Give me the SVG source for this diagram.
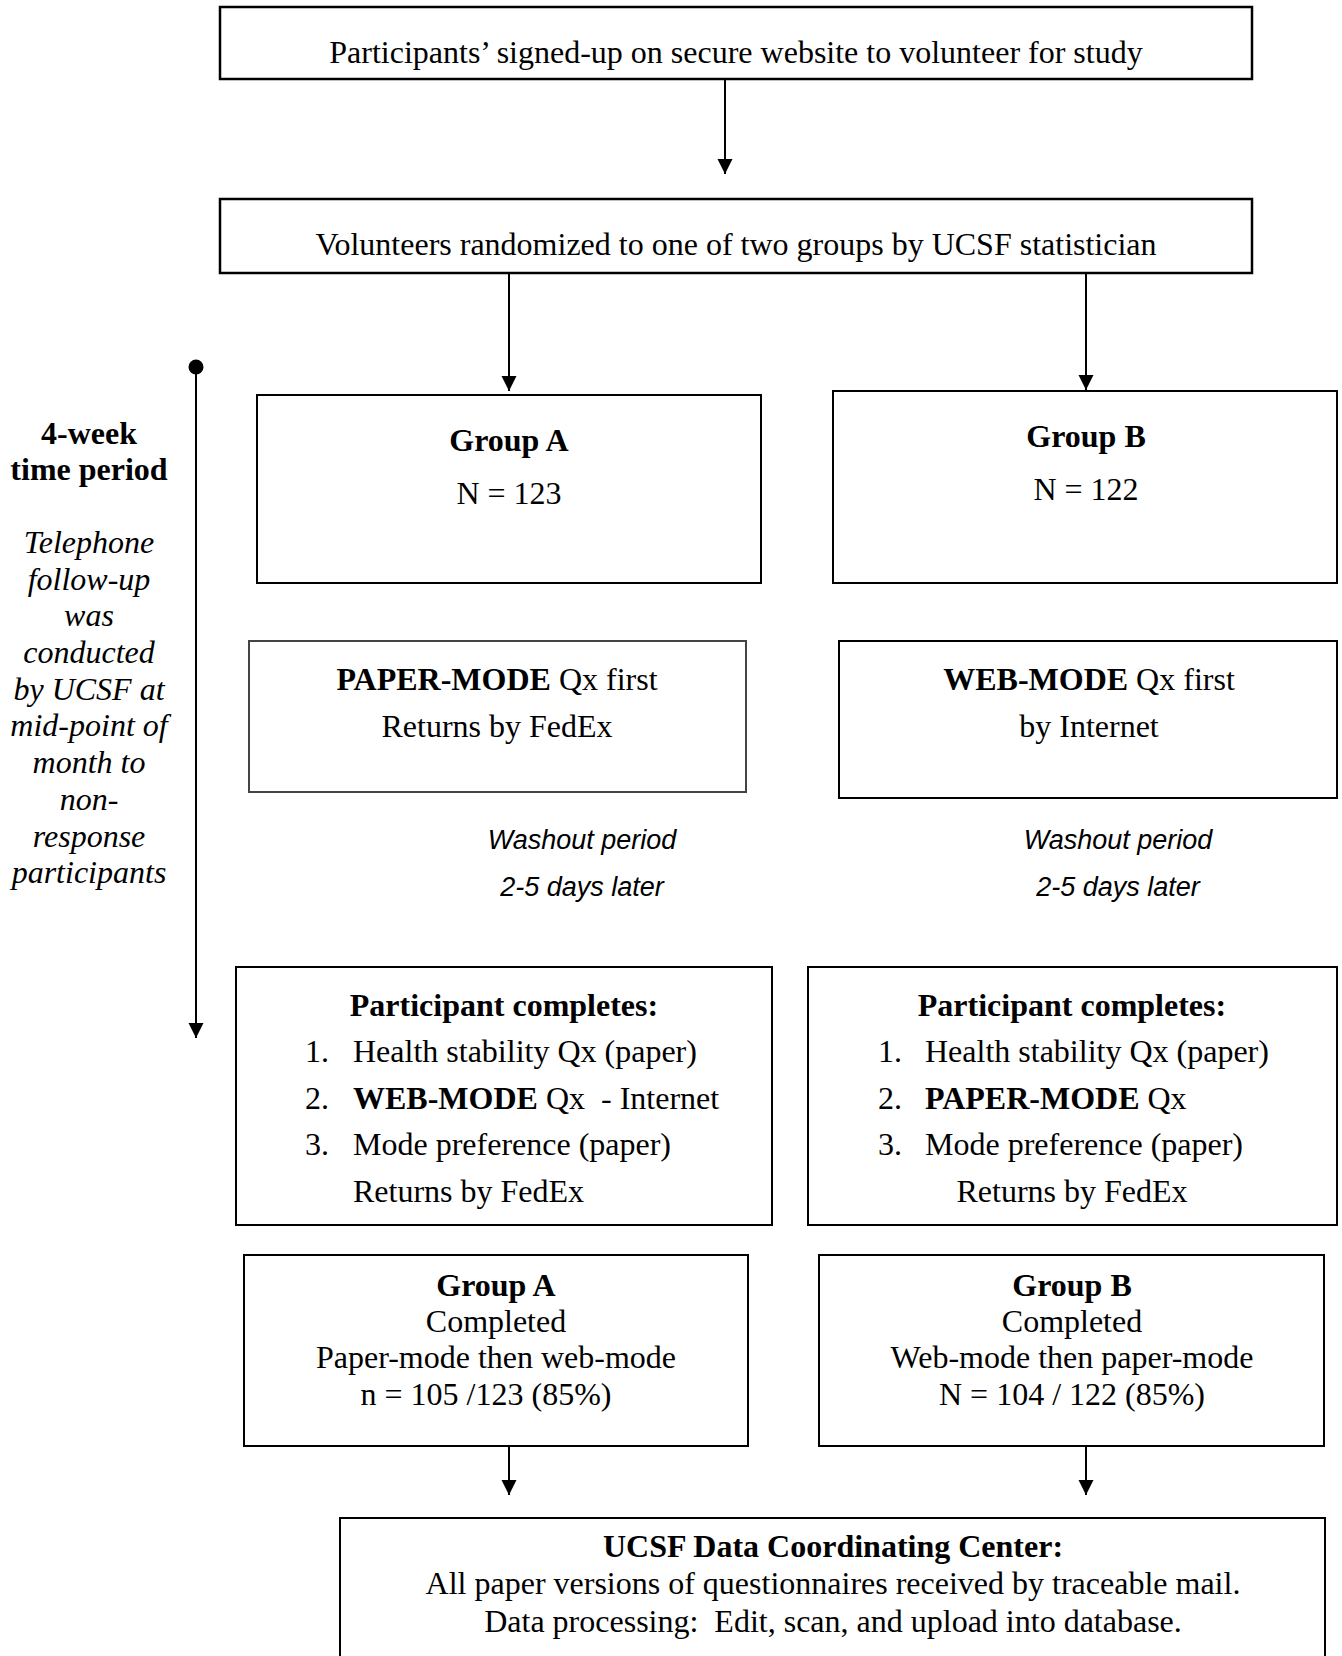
<svg xmlns="http://www.w3.org/2000/svg" width="1342" height="1656" viewBox="0 0 1342 1656">
<style>
.box{fill:#fff;stroke:#000;stroke-width:2}
.gbox{fill:#fff;stroke:#444;stroke-width:2}
.t{font-family:"Liberation Serif","Times New Roman",serif;font-size:32px;fill:#000}
.c{text-anchor:middle}
.b{font-weight:bold}
.i{font-style:italic}
.w{font-family:"Liberation Sans",Arial,sans-serif;font-size:27px;font-style:italic;text-anchor:middle;fill:#000}
.ln{stroke:#000;stroke-width:2;fill:none}
</style>
<defs>
<marker id="ah" markerUnits="userSpaceOnUse" markerWidth="16" markerHeight="16" refX="15" refY="7.5" orient="auto">
<path d="M0,0 L15,7.5 L0,15 z" fill="#000"/>
</marker>
</defs>
<rect width="1342" height="1656" fill="#fff"/>

<g id="connectors">
<line class="ln" x1="725" y1="79" x2="725" y2="174" marker-end="url(#ah)"/>
<line class="ln" x1="509" y1="273" x2="509" y2="391" marker-end="url(#ah)"/>
<line class="ln" x1="1086" y1="270" x2="1086" y2="390" marker-end="url(#ah)"/>
<line class="ln" x1="509" y1="1446" x2="509" y2="1495" marker-end="url(#ah)"/>
<line class="ln" x1="1086" y1="1446" x2="1086" y2="1495" marker-end="url(#ah)"/>
</g>

<g id="timeline">
<circle cx="196" cy="367" r="7.5" fill="#000"/>
<line class="ln" x1="196" y1="367" x2="196" y2="1038" marker-end="url(#ah)"/>
<text class="t c b" x="89" y="444">4-week</text>
<text class="t c b" x="89" y="480">time period</text>
<text class="t c i" x="89" y="553">Telephone</text>
<text class="t c i" x="89" y="590">follow-up</text>
<text class="t c i" x="89" y="626">was</text>
<text class="t c i" x="89" y="663">conducted</text>
<text class="t c i" x="89" y="700">by UCSF at</text>
<text class="t c i" x="89" y="736">mid-point of</text>
<text class="t c i" x="89" y="773">month to</text>
<text class="t c i" x="89" y="810">non-</text>
<text class="t c i" x="89" y="847">response</text>
<text class="t c i" x="89" y="883">participants</text>
</g>

<g id="signup">
<rect class="box" x="220" y="7" width="1032" height="72" style="stroke-width:2.5"/>
<text class="t c" x="736" y="63">Participants’ signed-up on secure website to volunteer for study</text>
</g>

<g id="randomized">
<rect class="box" x="220" y="199" width="1032" height="74" style="stroke-width:2.5"/>
<text class="t c" x="736" y="255">Volunteers randomized to one of two groups by UCSF statistician</text>
</g>

<g id="groupA">
<rect class="box" x="257" y="395" width="504" height="188"/>
<text class="t c b" x="509" y="451">Group A</text>
<text class="t c" x="509" y="504">N = 123</text>
</g>

<g id="groupB">
<rect class="box" x="833" y="391" width="504" height="192"/>
<text class="t c b" x="1086" y="447">Group B</text>
<text class="t c" x="1086" y="500">N = 122</text>
</g>

<g id="paperFirst">
<rect class="gbox" x="249" y="641" width="497" height="151"/>
<text class="t c" x="497" y="690"><tspan class="b">PAPER-MODE</tspan> Qx first</text>
<text class="t c" x="497" y="737">Returns by FedEx</text>
</g>

<g id="webFirst">
<rect class="box" x="839" y="641" width="498" height="157"/>
<text class="t c" x="1089" y="690"><tspan class="b">WEB-MODE</tspan> Qx first</text>
<text class="t c" x="1089" y="737">by Internet</text>
</g>

<g id="washoutA">
<text class="w" x="582" y="849">Washout period</text>
<text class="w" x="582" y="896">2-5 days later</text>
</g>

<g id="washoutB">
<text class="w" x="1118" y="849">Washout period</text>
<text class="w" x="1118" y="896">2-5 days later</text>
</g>

<g id="completesA">
<rect class="box" x="236" y="967" width="536" height="258"/>
<text class="t c b" x="504" y="1016">Participant completes:</text>
<text class="t" x="305" y="1062">1.</text>
<text class="t" x="353" y="1062">Health stability Qx (paper)</text>
<text class="t" x="305" y="1109">2.</text>
<text class="t" x="353" y="1109" xml:space="preserve"><tspan class="b">WEB-MODE</tspan> Qx  - Internet</text>
<text class="t" x="305" y="1155">3.</text>
<text class="t" x="353" y="1155">Mode preference (paper)</text>
<text class="t" x="353" y="1202">Returns by FedEx</text>
</g>

<g id="completesB">
<rect class="box" x="808" y="967" width="529" height="258"/>
<text class="t c b" x="1072" y="1016">Participant completes:</text>
<text class="t" x="878" y="1062">1.</text>
<text class="t" x="925" y="1062">Health stability Qx (paper)</text>
<text class="t" x="878" y="1109">2.</text>
<text class="t" x="925" y="1109"><tspan class="b">PAPER-MODE</tspan> Qx</text>
<text class="t" x="878" y="1155">3.</text>
<text class="t" x="925" y="1155">Mode preference (paper)</text>
<text class="t c" x="1072" y="1202">Returns by FedEx</text>
</g>

<g id="completedA">
<rect class="box" x="244" y="1255" width="504" height="191"/>
<text class="t c b" x="496" y="1296">Group A</text>
<text class="t c" x="496" y="1332">Completed</text>
<text class="t c" x="496" y="1368">Paper-mode then web-mode</text>
<text class="t c" x="486" y="1405">n = 105 /123 (85%)</text>
</g>

<g id="completedB">
<rect class="box" x="819" y="1255" width="505" height="191"/>
<text class="t c b" x="1072" y="1296">Group B</text>
<text class="t c" x="1072" y="1332">Completed</text>
<text class="t c" x="1072" y="1368">Web-mode then paper-mode</text>
<text class="t c" x="1072" y="1405">N = 104 / 122 (85%)</text>
</g>

<g id="dcc">
<rect class="box" x="340" y="1518" width="985" height="150"/>
<text class="t c b" x="833" y="1557">UCSF Data Coordinating Center:</text>
<text class="t c" x="833" y="1594">All paper versions of questionnaires received by traceable mail.</text>
<text class="t c" x="833" y="1632" xml:space="preserve">Data processing:  Edit, scan, and upload into database.</text>
</g>
</svg>
